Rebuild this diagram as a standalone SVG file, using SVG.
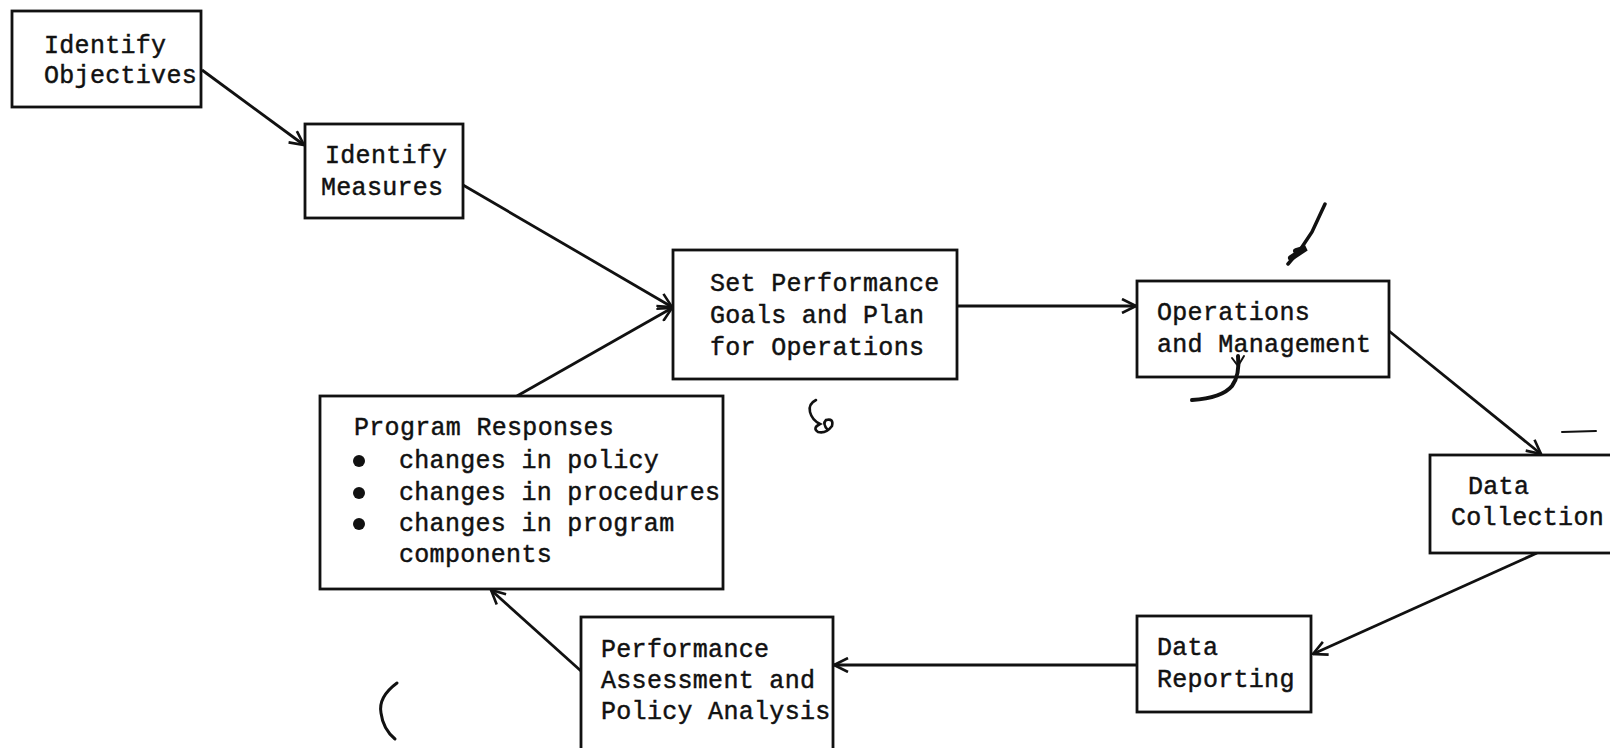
<svg xmlns="http://www.w3.org/2000/svg" width="1610" height="748" viewBox="0 0 1610 748">
<defs>
<style>
.box{fill:#fff;stroke:#111;stroke-width:2.8}
.t{font-family:"Liberation Mono","Courier New",monospace;font-size:25px;letter-spacing:0.3px;fill:#111;stroke:#111;stroke-width:0.45}
.c{stroke:#111;stroke-width:2.8;fill:none;marker-end:url(#ah)}
.m{stroke:#111;fill:none;stroke-linecap:round}
</style>
<marker id="ah" viewBox="0 0 16 16" refX="15" refY="8" markerWidth="16" markerHeight="16" markerUnits="userSpaceOnUse" orient="auto">
<path d="M1,1 L15,8 L1,15" fill="none" stroke="#111" stroke-width="2.6"/>
</marker>
</defs>
<rect width="1610" height="748" fill="#fff"/>

<g id="connectors">
<line class="c" x1="202" y1="70" x2="304" y2="145"/>
<line class="c" x1="463" y1="185" x2="672" y2="307"/>
<line class="c" x1="517" y1="396" x2="672" y2="308"/>
<line class="c" x1="957" y1="306" x2="1136" y2="306"/>
<line class="c" x1="1389" y1="331" x2="1541" y2="454"/>
<line class="c" x1="1537" y1="553" x2="1313" y2="654"/>
<line class="c" x1="1137" y1="665" x2="834" y2="665"/>
<line class="c" x1="581" y1="671" x2="491" y2="590"/>
</g>

<g id="n-objectives">
<rect class="box" x="12" y="11" width="189" height="96"/>
<text class="t" x="44" y="53">Identify</text>
<text class="t" x="44" y="83">Objectives</text>
</g>

<g id="n-measures">
<rect class="box" x="305" y="124" width="158" height="94"/>
<text class="t" x="325" y="163">Identify</text>
<text class="t" x="321" y="195">Measures</text>
</g>

<g id="n-goals">
<rect class="box" x="673" y="250" width="284" height="129"/>
<text class="t" x="710" y="291">Set Performance</text>
<text class="t" x="710" y="323">Goals and Plan</text>
<text class="t" x="710" y="355">for Operations</text>
</g>

<g id="n-operations">
<rect class="box" x="1137" y="281" width="252" height="96"/>
<text class="t" x="1157" y="320">Operations</text>
<text class="t" x="1157" y="352">and Management</text>
</g>

<g id="n-collection">
<rect class="box" x="1430" y="455" width="184" height="98"/>
<text class="t" x="1468" y="494">Data</text>
<text class="t" x="1451" y="525">Collection</text>
</g>

<g id="n-reporting">
<rect class="box" x="1137" y="616" width="174" height="96"/>
<text class="t" x="1157" y="655">Data</text>
<text class="t" x="1157" y="687">Reporting</text>
</g>

<g id="n-assessment">
<rect class="box" x="581" y="617" width="252" height="134"/>
<text class="t" x="601" y="657">Performance</text>
<text class="t" x="601" y="688">Assessment and</text>
<text class="t" x="601" y="719">Policy Analysis</text>
</g>

<g id="n-responses">
<rect class="box" x="320" y="396" width="403" height="193"/>
<text class="t" x="354" y="435">Program Responses</text>
<circle cx="359" cy="461" r="6" fill="#111"/>
<text class="t" x="399" y="468">changes in policy</text>
<circle cx="359" cy="493" r="6" fill="#111"/>
<text class="t" x="399" y="500">changes in procedures</text>
<circle cx="359" cy="524" r="6" fill="#111"/>
<text class="t" x="399" y="531">changes in program</text>
<text class="t" x="399" y="562">components</text>
</g>

<g id="marks">
<path class="m" stroke-width="3.5" d="M1325,204 L1312,232 L1300,250 L1288,264"/>
<path class="m" stroke-width="6" d="M1296,251 L1306,248 L1291,258"/>
<path class="m" stroke-width="4" d="M1238,356 Q1240,375 1232,386 Q1222,398 1192,400"/>
<path class="m" stroke-width="2" d="M1232,358 L1238,366 L1244,356"/>
<path class="m" stroke-width="3" d="M397,683 Q378,697 381,713 Q383,729 395,739"/>
<path class="m" stroke-width="2.6" d="M816,400 Q808,404 810,412 Q812,420 820,424 Q812,428 818,432 Q826,434 832,426 Q834,418 826,420 Q822,424 828,430"/>
<path class="m" stroke-width="2" d="M1562,432 L1596,431"/>
</g>
</svg>
